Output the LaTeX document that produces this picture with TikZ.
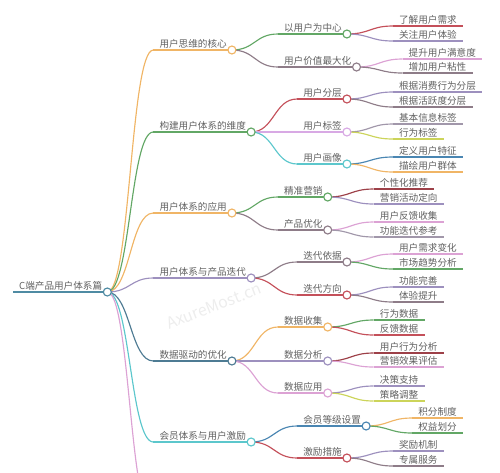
\documentclass[tikz,border=0pt]{standalone}
\usepackage{fontspec}
\setmainfont{Noto Sans CJK SC}
\usetikzlibrary{calc}
\pgfdeclarelayer{bg}
\pgfsetlayers{bg,main}

\definecolor{cRoot}{HTML}{4F8BA3}
\definecolor{cOrange}{HTML}{F0B566}
\definecolor{cGreen}{HTML}{62A765}
\definecolor{cViolet}{HTML}{9D90BE}
\definecolor{cSlate}{HTML}{4E7B93}
\definecolor{cCyan}{HTML}{5CC7CC}
\definecolor{cPink}{HTML}{DCA2D4}
\definecolor{cRed}{HTML}{C4505A}
\definecolor{cMauve}{HTML}{8E7C88}
\definecolor{cLilac}{HTML}{D8A9E4}
\definecolor{cOlive}{HTML}{CCD45A}
\definecolor{cBlue}{HTML}{4A86B2}
\definecolor{cGray}{HTML}{A197AA}

\tikzset{
  txt/.style={inner sep=0pt, anchor=base west, text=black!62,
    font=\fontsize{9.6}{11}\selectfont},
  link/.style={line width=1.15pt},
  dot/.style={circle, draw=#1, fill=white, line width=1.15pt,
    minimum size=8pt, inner sep=0pt},
}

% curve from the circle of #1 to the point #2
\newcommand{\mmcurve}[3]{%
  \begin{pgfonlayer}{bg}
    \draw[link, #3] let \p1=(#1-e), \p2=(#2) in
      (\p1) .. controls ({(\x1+\x2)/2},\y1) and ({(\x1+\x2)/2},\y2) .. (\p2);
  \end{pgfonlayer}}

% #1 name, #2 parent, #3 y, #4 colour, #5 text, #6 gap at the end
\newcommand{\mmtopic}[6]{%
  \coordinate (#1-s) at ($(#2-e |- 0,#3)+(46,0)$);
  \node[txt] (#1) at ($(#1-s)+(6,-3)$) {#5};
  \path (#1.base east) ++(#6,3) coordinate (#1-e);
  \mmcurve{#2}{#1-s}{#4}
  \begin{pgfonlayer}{bg}
    \draw[link, #4] (#1-s) -- (#1-e);
  \end{pgfonlayer}}
\newcommand{\mmbranch}[5]{%
  \mmtopic{#1}{#2}{#3}{#4}{#5}{5}
  \node[dot=#4] (#1-c) at (#1-e) {};}
\newcommand{\mmleaf}[5]{\mmtopic{#1}{#2}{#3}{#4}{#5}{6}}

\begin{document}
\begin{tikzpicture}[x=1pt, y=-1pt]
  \useasboundingbox (0,0) rectangle (500,472);
  \clip (0,0) rectangle (500,472);
  % watermark
  \node[rotate=21, text=black!7, font=\fontsize{16}{16}\selectfont] (wm) at (214,306) {AxureMost.cn};

  % root
  \coordinate (root-s) at (13,292);
  \node[txt] (root) at (19,289) {C端产品用户体系篇};
  \path (root.base east) ++(5,3) coordinate (root-e);
  \begin{pgfonlayer}{bg}
    \draw[link, cRoot] (root-s) -- (root-e);
  \end{pgfonlayer}
  \node[dot=cRoot] (root-c) at (root-e) {};

  % main branches
  \mmbranch{b1}{root}{50}{cOrange}{用户思维的核心}
  \mmbranch{b2}{root}{132}{cGreen}{构建用户体系的维度}
  \mmbranch{b3}{root}{213}{cOrange}{用户体系的应用}
  \mmbranch{b4}{root}{278}{cViolet}{用户体系与产品迭代}
  \mmbranch{b5}{root}{361}{cSlate}{数据驱动的优化}
  \mmbranch{b6}{root}{442}{cCyan}{会员体系与用户激励}
  \coordinate (b7-s) at (152,515);
  \mmcurve{root}{b7-s}{cPink}

  % 用户思维的核心
  \mmbranch{c11}{b1}{34}{cGreen}{以用户为中心}
  \mmbranch{c12}{b1}{67}{cMauve}{用户价值最大化}
  \mmleaf{d111}{c11}{26}{cRed}{了解用户需求}
  \mmleaf{d112}{c11}{41}{cViolet}{关注用户体验}
  \mmleaf{d121}{c12}{59}{cPink}{提升用户满意度}
  \mmleaf{d122}{c12}{73}{cMauve}{增加用户粘性}

  % 构建用户体系的维度
  \mmbranch{c21}{b2}{99}{cRed}{用户分层}
  \mmbranch{c22}{b2}{132}{cLilac}{用户标签}
  \mmbranch{c23}{b2}{164}{cCyan}{用户画像}
  \mmleaf{d211}{c21}{92}{cViolet}{根据消费行为分层}
  \mmleaf{d212}{c21}{107}{cMauve}{根据活跃度分层}
  \mmleaf{d221}{c22}{124}{cGray}{基本信息标签}
  \mmleaf{d222}{c22}{139}{cOlive}{行为标签}
  \mmleaf{d231}{c23}{157}{cBlue}{定义用户特征}
  \mmleaf{d232}{c23}{172}{cOrange}{描绘用户群体}

  % 用户体系的应用
  \mmbranch{c31}{b3}{197}{cGreen}{精准营销}
  \mmbranch{c32}{b3}{230}{cMauve}{产品优化}
  \mmleaf{d311}{c31}{189}{cRed!80!black}{个性化推荐}
  \mmleaf{d312}{c31}{204}{cViolet}{营销活动定向}
  \mmleaf{d321}{c32}{222}{cPink}{用户反馈收集}
  \mmleaf{d322}{c32}{237}{cGray}{功能迭代参考}

  % 用户体系与产品迭代
  \mmbranch{c41}{b4}{262}{cMauve}{迭代依据}
  \mmbranch{c42}{b4}{295}{cRed}{迭代方向}
  \mmleaf{d411}{c41}{254}{cPink}{用户需求变化}
  \mmleaf{d412}{c41}{269}{cGreen}{市场趋势分析}
  \mmleaf{d421}{c42}{287}{cViolet}{功能完善}
  \mmleaf{d422}{c42}{302}{cMauve}{体验提升}

  % 数据驱动的优化
  \mmbranch{c51}{b5}{327}{cOrange}{数据收集}
  \mmbranch{c52}{b5}{361}{cViolet}{数据分析}
  \mmbranch{c53}{b5}{393}{cPink}{数据应用}
  \mmleaf{d511}{c51}{320}{cGreen}{行为数据}
  \mmleaf{d512}{c51}{335}{cRed}{反馈数据}
  \mmleaf{d521}{c52}{353}{cRed!80!black}{用户行为分析}
  \mmleaf{d522}{c52}{367}{cPink}{营销效果评估}
  \mmleaf{d531}{c53}{386}{cViolet}{决策支持}
  \mmleaf{d532}{c53}{401}{cOlive}{策略调整}

  % 会员体系与用户激励
  \mmbranch{c61}{b6}{426}{cBlue}{会员等级设置}
  \mmbranch{c62}{b6}{458}{cRed}{激励措施}
  \mmleaf{d611}{c61}{418}{cOrange}{积分制度}
  \mmleaf{d612}{c61}{433}{cGreen}{权益划分}
  \mmleaf{d621}{c62}{451}{cViolet}{奖励机制}
  \mmleaf{d622}{c62}{466}{cMauve}{专属服务}
\end{tikzpicture}
\end{document}
